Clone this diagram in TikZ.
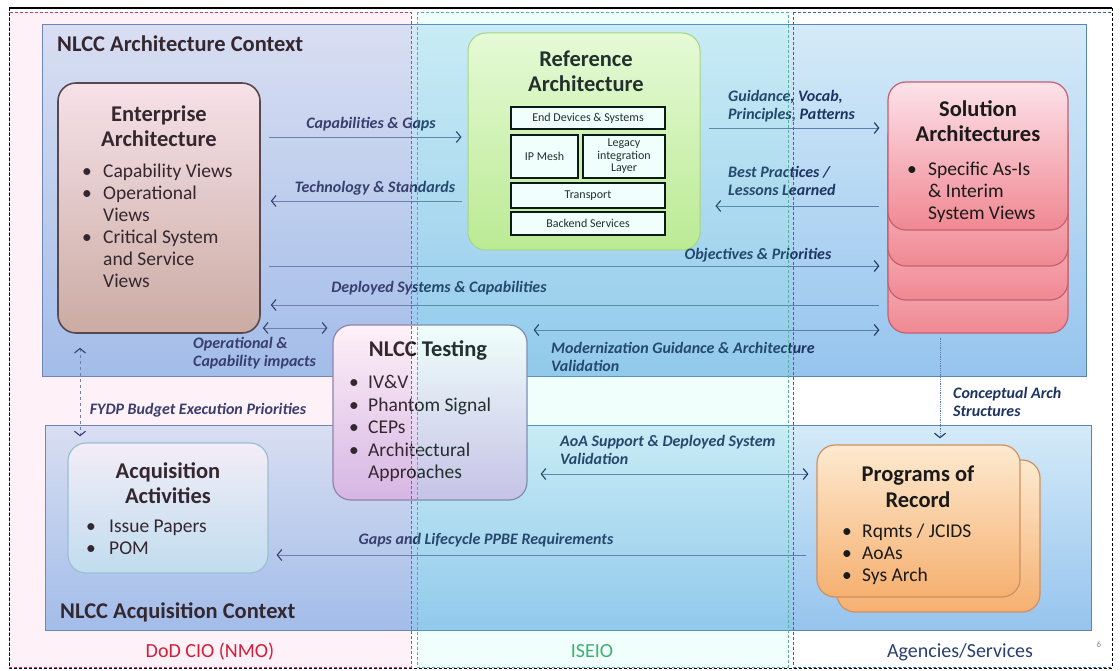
\documentclass[tikz,border=0pt]{standalone}
\usepackage{fontspec}
\setmainfont{Carlito}
\usetikzlibrary{arrows.meta,calc}
\definecolor{navy}{HTML}{1D3461}
\definecolor{linec}{HTML}{5A7FA8}
\definecolor{ctxb}{HTML}{5A86B4}
\definecolor{ctxtop}{HTML}{D4EAF8}
\definecolor{ctxbot}{HTML}{96C4EE}
\definecolor{txt}{HTML}{1A1A1A}
\definecolor{eatop}{HTML}{F6EEEE}
\definecolor{eabot}{HTML}{C4B09E}
\definecolor{radraw}{HTML}{AAD278}
\definecolor{ratop}{HTML}{F4FAD6}
\definecolor{rabot}{HTML}{C4E88C}
\definecolor{sadraw}{HTML}{C46070}
\definecolor{satop}{HTML}{FDE2EA}
\definecolor{sabot}{HTML}{F08892}
\definecolor{ntdraw}{HTML}{8282AA}
\definecolor{ntbot}{HTML}{D0BCE8}
\definecolor{aadraw}{HTML}{8CC8D2}
\definecolor{aatop}{HTML}{F2FBFF}
\definecolor{aabot}{HTML}{B8E8F4}
\definecolor{pordraw}{HTML}{D09060}
\definecolor{portop}{HTML}{FDEAD0}
\definecolor{porbot}{HTML}{F5B070}
\definecolor{tintdod}{HTML}{FF8CC8}
\definecolor{tintise}{HTML}{6EFFDC}
\definecolor{coldod}{HTML}{D23C64}
\definecolor{colise}{HTML}{50B496}
\definecolor{colag}{HTML}{3C6496}
\definecolor{labdod}{HTML}{D0203A}
\definecolor{labise}{HTML}{40B070}
\definecolor{labag}{HTML}{2A4070}
\newcommand\bu[1]{\makebox[#1][l]{\textbullet}}
\newcommand\ind[1]{\hspace*{#1}}
\begin{document}
\begin{tikzpicture}[x=1pt,y=-1pt,
  ctx/.style={rectangle,draw=ctxb,line width=1pt,top color=ctxtop,bottom color=ctxbot,inner sep=0pt},
  ctxtitle/.style={font=\fontsize{22.5}{26}\selectfont\bfseries,text=txt,inner sep=0pt},
  box/.style={rectangle,rounded corners=18pt,line width=1.2pt,inner sep=0pt},
  btitle/.style={font=\fontsize{22.5}{25}\selectfont\bfseries,text=txt,align=center,inner sep=0pt},
  blist/.style={font=\fontsize{19.5}{22}\selectfont,text=txt,align=left,inner sep=0pt,anchor=north west},
  inbox/.style={rectangle,draw=black,line width=1.6pt,fill=white,font=\fontsize{12}{12.5}\selectfont,text=txt,align=center,inner sep=0pt},
  lab/.style={font=\fontsize{16}{17.5}\selectfont\bfseries\itshape,text=navy,align=left,inner sep=0pt},
  arr/.style={draw=linec,line width=0.8pt,-{Straight Barb[length=4.5pt,width=11pt,line width=1.1pt,color=navy]}},
  darr/.style={draw=linec,line width=0.8pt,{Straight Barb[length=4.5pt,width=11pt,line width=1.1pt,color=navy]}-{Straight Barb[length=4.5pt,width=11pt,line width=1.1pt,color=navy]}},
  collab/.style={font=\fontsize{20}{22}\selectfont,inner sep=0pt}
]
\useasboundingbox (0,0) rectangle (1120,671);
\fill[white] (0,0) rectangle (1120,671);

% contexts
\node[ctx,minimum width=1044pt,minimum height=351pt] (arch) at (564,200.5) {};
\node[ctx,minimum width=1046pt,minimum height=205pt] (acq) at (568,527.5) {};
\node[ctxtitle,anchor=west] (archt) at (57,44) {NLCC Architecture Context};
\node[ctxtitle,anchor=west] (acqt) at (60,612) {NLCC Acquisition Context};

% Enterprise Architecture
\node[box,draw=black!75,line width=1.6pt,top color=eatop,bottom color=eabot,minimum width=202pt,minimum height=250pt] (ea) at (159,208) {};
\node[btitle] (eat) at (159,126) {Enterprise\\Architecture};
\node[blist] (eal) at (82,164) {\bu{21pt}Capability Views\\\bu{21pt}Operational\\\ind{21pt}Views\\\bu{21pt}Critical System\\\ind{21pt}and Service\\\ind{21pt}Views};

% Reference Architecture
\node[box,draw=radraw,line width=1pt,top color=ratop,bottom color=rabot,minimum width=232pt,minimum height=217pt] (ra) at (584,141.5) {};
\node[btitle] (rat) at (586,71) {Reference\\Architecture};
\node[inbox,minimum width=154pt,minimum height=22pt] (ed) at (588,118) {End Devices \& Systems};
\node[inbox,minimum width=67pt,minimum height=43pt] (ipm) at (544.5,156.5) {IP Mesh};
\node[inbox,minimum width=82pt,minimum height=43pt] (leg) at (624,156.5) {Legacy\\integration\\Layer};
\node[inbox,minimum width=154pt,minimum height=25pt] (tr) at (588,195.5) {Transport};
\node[inbox,minimum width=154pt,minimum height=23pt] (be) at (588,223.5) {Backend Services};

% Solution Architectures (stack)
\tikzset{sabox/.style={box,draw=sadraw,line width=1.2pt,top color=satop,bottom color=sabot,minimum width=180pt,minimum height=148pt}}
\node[sabox] (sa3) at (978,259) {};
\node[sabox] (sa2) at (978,226) {};
\node[sabox] (sa1) at (978,192) {};
\node[sabox] (sa) at (978,156) {};
\node[btitle] (sat) at (978,121) {Solution\\Architectures};
\node[blist] (sal) at (907,162) {\bu{21pt}Specific As-Is\\\ind{21pt}\& Interim\\\ind{21pt}System Views};

% NLCC Testing
\node[box,draw=ntdraw,line width=1.2pt,top color=white,bottom color=ntbot,minimum width=194pt,minimum height=175pt] (nt) at (430,412.5) {};
\node[btitle,anchor=center] (ntt) at (428,350) {NLCC Testing};
\node[blist,font=\fontsize{19.5}{22.5}\selectfont] (ntl) at (349,375) {\bu{19pt}IV\&V\\\bu{19pt}Phantom Signal\\\bu{19pt}CEPs\\\bu{19pt}Architectural\\\ind{19pt}Approaches};

% Acquisition Activities
\node[box,draw=aadraw,line width=1.2pt,top color=aatop,bottom color=aabot,minimum width=200pt,minimum height=130pt] (aa) at (168,508) {};
\node[btitle] (aat) at (168,483) {Acquisition\\Activities};
\node[blist] (aal) at (86,520) {\bu{23pt}Issue Papers\\\bu{23pt}POM};

% Programs of Record (stack)
\tikzset{porbox/.style={box,draw=pordraw,line width=1.2pt,top color=portop,bottom color=porbot,minimum width=203pt,minimum height=152pt}}
\node[porbox] (por2) at (938.5,536) {};
\node[porbox] (por) at (918.5,521) {};
\node[btitle,font=\fontsize{22.5}{26.5}\selectfont\bfseries] (port) at (918,487) {Programs of\\Record};
\node[blist] (porl) at (842,524) {\bu{20pt}Rqmts / JCIDS\\\bu{20pt}AoAs\\\bu{20pt}Sys Arch};

% connectors
\draw[arr] ($(ea.east)+(8,-71)$) -- ($(ra.west)+(-6,-4.5)$);
\draw[arr] ($(ra.west)+(-6,59.5)$) -- ($(ea.east)+(10,-7)$);
\draw[arr] ($(ra.east)+(8,-13.5)$) -- ($(sa.west)+(-8,-28)$);
\draw[arr] ($(sa.west)+(-8,50)$) -- ($(ra.east)+(15,64.5)$);
\draw[arr] ($(ea.east)+(8,58)$) -- ($(sa.west)+(-8,110)$);
\draw[arr] ($(sa.west)+(-8,149)$) -- ($(ea.east)+(10,97)$);
\draw[darr] ($(ea.east)+(2,120)$) -- ($(nt.west)+(-5,-84.5)$);
\draw[darr] ($(nt.east)+(6,-82.5)$) -- ($(sa.west)+(-8,174)$);
\draw[darr,dashed] ($(ea.south)+(-79,14)$) -- ($(aa.north)+(-88,-6)$);
\draw[arr,densely dotted] ($(sa3.south)+(-38,4)$) -- ($(por.north)+(21.5,-6)$);
\draw[darr] ($(nt.east)+(13,61.5)$) -- ($(por.west)+(-8,-47)$);
\draw[arr] ($(por.west)+(-10,34)$) -- ($(aa.east)+(8,47)$);

% connector labels
\node[lab] (l1) at (371,124) {Capabilities \& Gaps};
\node[lab] (l2) at (375,188) {Technology \& Standards};
\node[lab,anchor=west] (l3) at (728,106) {Guidance, Vocab,\\Principles, Patterns};
\node[lab,anchor=west] (l4) at (728,181) {Best Practices /\\Lessons Learned};
\node[lab] (l5) at (758,255) {Objectives \& Priorities};
\node[lab] (l6) at (439,288) {Deployed Systems \& Capabilities};
\node[lab,anchor=west] (l7) at (193,353) {Operational \&\\Capability impacts};
\node[lab,anchor=west] (l8) at (551,357) {Modernization Guidance \& Architecture\\Validation};
\node[lab] (l9) at (198,410) {FYDP Budget Execution Priorities};
\node[lab,anchor=west] (l10) at (953,402) {Conceptual Arch\\Structures};
\node[lab,anchor=west] (l11) at (560,450) {AoA Support \& Deployed System\\Validation};
\node[lab] (l12) at (486,540) {Gaps and Lifecycle PPBE Requirements};

% column tints and frames
\fill[tintdod,opacity=0.12] (9,12) rectangle (411,667);
\fill[tintise,opacity=0.10] (417,12) rectangle (788,667);
\draw[coldod,densely dashed,line width=0.9pt] (9,12) rectangle (411,667);
\draw[colise,densely dashed,line width=0.9pt] (417,12) rectangle (788,667);
\draw[colag,densely dashed,line width=0.9pt] (793,12) rectangle (1112,667);
\draw[black,densely dashed,line width=1pt] (9,8) rectangle (1112,668);
\draw[black,line width=1.2pt] (9,8) -- (1112,8);

\node[collab,text=labdod] (c1) at (210,652) {DoD CIO (NMO)};
\node[collab,text=labise] (c2) at (592,651) {ISEIO};
\node[collab,text=labag] (c3) at (960,652) {Agencies/Services};
\node[font=\fontsize{9}{10}\selectfont,text=black!45,inner sep=0pt] (pg) at (1099,644) {6};
\end{tikzpicture}
\end{document}
